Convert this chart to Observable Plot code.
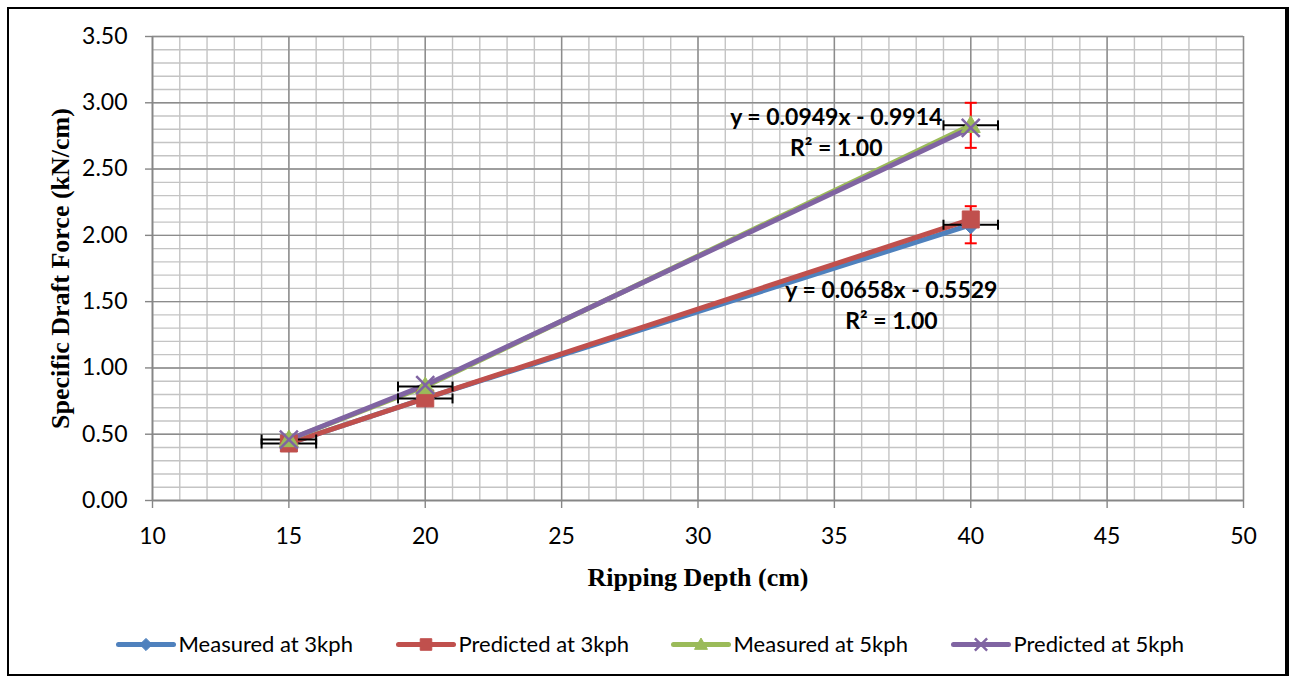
<!DOCTYPE html>
<html>
<head>
<meta charset="utf-8">
<script src="https://cdn.jsdelivr.net/npm/d3@7"></script>
<script src="https://cdn.jsdelivr.net/npm/@observablehq/plot@0.6"></script>
<style>
  html, body { margin: 0; padding: 0; background: #fff; }
  #wrap { position: relative; width: 1291px; height: 680px; overflow: hidden; background: #fff; }
  #chart { position: absolute; left: 0; top: 0; }
  #legend { position: absolute; left: 0; top: 619px; }
  #border { position: absolute; left: 7px; top: 7px; width: 1276px; height: 665px;
            border-left: 2px solid #000; border-top: 2px solid #000;
            border-right: 4px solid #000; border-bottom: 2px solid #000; pointer-events: none; }
</style>
</head>
<body>
<div id="wrap">
  <div id="chart"></div>
  <div id="legend"></div>
  <div id="border"></div>
</div>
<script>
// ---------------- data ----------------
const depth = [15, 20, 40];
const measured3kph = [0.43, 0.77, 2.08];
const predicted3kph = [0.43, 0.77, 2.12];
const measured5kph = [0.46, 0.86, 2.83];
const predicted5kph = [0.46, 0.87, 2.81];
const seriesNames = ["Measured at 3kph", "Predicted at 3kph", "Measured at 5kph", "Predicted at 5kph"];
const seriesColors = ["#4F81BD", "#C0504D", "#9BBB59", "#8064A2"];
const depthError = [1, 1, 1];          // ± cm (horizontal error bars, measured series)
const forceError3kph = [0, 0, 0.14];   // ± kN/cm (vertical error bars)
const forceError5kph = [0, 0, 0.17];
const xTicks = [10, 15, 20, 25, 30, 35, 40, 45, 50];
const yTicks = [0, 0.5, 1, 1.5, 2, 2.5, 3, 3.5];
const equationText = ["y = 0.0949x - 0.9914\nR² = 1.00", "y = 0.0658x - 0.5529\nR² = 1.00"];
const equationDepth = [35.07, 37.09];
const equationForce = [2.787, 1.489];
const xTitle = "Ripping Depth (cm)";
const yTitle = "Specific Draft Force (kN/cm)";

// ---------------- tables ----------------
const seriesValues = [measured3kph, predicted3kph, measured5kph, predicted5kph];
const rows = seriesValues.flatMap((vals, s) => depth.map((x, i) => ({ s, x, y: vals[i] })));
const bySeries = s => rows.filter(r => r.s === s);
const hErr = [measured3kph, measured5kph].flatMap(vals => depth.map((x, i) => ({ x, y: vals[i], e: depthError[i] })));
const vErr = [[measured3kph, forceError3kph], [measured5kph, forceError5kph]]
  .flatMap(([vals, err]) => depth.map((x, i) => ({ x, y: vals[i], e: err[i] }))).filter(d => d.e > 0);
const notes = equationText.map((t, i) => ({ t, x: equationDepth[i], y: equationForce[i] }));

// ---------------- symbols ----------------
const sqSym = h => ({ draw(c) { c.rect(-h, -h, 2 * h, 2 * h); } });
const diaSym = h => ({ draw(c) { c.moveTo(0, -h); c.lineTo(h, 0); c.lineTo(0, h); c.lineTo(-h, 0); c.closePath(); } });
const triSym = h => ({ draw(c) { c.moveTo(0, -h); c.lineTo(h, h * 0.75); c.lineTo(-h, h * 0.75); c.closePath(); } });
const xSym = h => ({ draw(c) { c.moveTo(-h, -h); c.lineTo(h, h); c.moveTo(h, -h); c.lineTo(-h, h); } });
const vCap = h => ({ draw(c) { c.moveTo(0, -h); c.lineTo(0, h); } });
const hCap = h => ({ draw(c) { c.moveTo(-h, 0); c.lineTo(h, 0); } });

function markerMarks(data, s, big) {
  const k = big ? 1 : 0.68;
  const col = seriesColors[s];
  if (s === 0) return Plot.dot(data, { x: "x", y: "y", symbol: diaSym(9 * k), fill: col, stroke: col, strokeWidth: 1 });
  if (s === 1) return Plot.dot(data, { x: "x", y: "y", symbol: sqSym(8.5 * k), fill: col, stroke: col, strokeWidth: 1 });
  if (s === 2) return Plot.dot(data, { x: "x", y: "y", symbol: triSym(9.5 * k), fill: col, stroke: col, strokeWidth: 1 });
  return Plot.dot(data, { x: "x", y: "y", symbol: xSym(9 * k), fill: "none", stroke: col, strokeWidth: 2.5 });
}

const FONT = "Lato, 'Open Sans', sans-serif";
const SERIF = "'Liberation Serif', 'Times New Roman', serif";
const minorX = d3.range(10, 51);
const minorY = d3.range(0, 36).map(i => i / 10);

const chart = Plot.plot({
  width: 1291, height: 600,
  marginLeft: 152, marginRight: 48, marginTop: 36, marginBottom: 100,
  x: { domain: [10, 50] },
  y: { domain: [0, 3.5] },
  style: { fontFamily: FONT, fontSize: "23px", color: "#000", background: "transparent", overflow: "visible" },
  marks: [
    Plot.gridX(minorX, { stroke: "#c4c4c4", strokeOpacity: 1, strokeWidth: 1.4 }),
    Plot.gridY(minorY, { stroke: "#c4c4c4", strokeOpacity: 1, strokeWidth: 1.4 }),
    Plot.gridX(xTicks, { stroke: "#8c8c8c", strokeOpacity: 1, strokeWidth: 1.4 }),
    Plot.gridY(yTicks, { stroke: "#8c8c8c", strokeOpacity: 1, strokeWidth: 1.4 }),
    Plot.axisX({ ticks: xTicks, tickSize: 8, tickPadding: 19, tickFormat: d => String(d), label: null,
                 stroke: "#868686", strokeWidth: 1.4, fill: "#000" }),
    Plot.axisY({ ticks: yTicks, tickSize: 7, tickPadding: 18, tickFormat: d3.format(".2f"), label: null,
                 stroke: "#868686", strokeWidth: 1.4, fill: "#000" }),
    Plot.ruleX([10], { stroke: "#868686", strokeWidth: 1.6 }),
    Plot.ruleY([0], { stroke: "#868686", strokeWidth: 1.6 }),
    // series lines
    ...[0, 1, 2, 3].map(s => Plot.line(bySeries(s), { x: "x", y: "y", stroke: seriesColors[s], strokeWidth: 5,
                                                     strokeLinejoin: "round", strokeLinecap: "round" })),
    // error bars
    Plot.link(hErr, { x1: d => d.x - d.e, x2: d => d.x + d.e, y1: "y", y2: "y", stroke: "#000", strokeWidth: 2 }),
    Plot.dot(hErr, { x: d => d.x - d.e, y: "y", symbol: vCap(5), stroke: "#000", strokeWidth: 2 }),
    Plot.dot(hErr, { x: d => d.x + d.e, y: "y", symbol: vCap(5), stroke: "#000", strokeWidth: 2 }),
    Plot.link(vErr, { x1: "x", x2: "x", y1: d => d.y - d.e, y2: d => d.y + d.e, stroke: "#FF0000", strokeWidth: 2 }),
    Plot.dot(vErr, { x: "x", y: d => d.y - d.e, symbol: hCap(6), stroke: "#FF0000", strokeWidth: 2 }),
    Plot.dot(vErr, { x: "x", y: d => d.y + d.e, symbol: hCap(6), stroke: "#FF0000", strokeWidth: 2 }),
    // markers
    ...[0, 1, 2, 3].map(s => markerMarks(bySeries(s), s, true)),
    // equations
    Plot.text(notes, { x: "x", y: "y", text: "t", fontWeight: "bold", fontSize: 23, lineHeight: 1.35,
                       fill: "#000", textAnchor: "middle" }),
    // axis titles
    Plot.text([xTitle], { frameAnchor: "bottom", dy: 77, fontFamily: SERIF, textAnchor: "middle",
                          fontWeight: "bold", fontSize: 26, fill: "#000", lineAnchor: "middle" }),
    Plot.text([yTitle], { frameAnchor: "left", dx: -92, rotate: -90, fontFamily: SERIF, textAnchor: "middle",
                          fontWeight: "bold", fontSize: 26, fill: "#000", lineAnchor: "middle" })
  ]
});
document.getElementById("chart").appendChild(chart);

// ---------------- legend ----------------
const legendStart = [118, 398, 673, 953];
const legendItems = seriesNames.map((name, s) => ({ s, name, x0: legendStart[s] }));
const legend = Plot.plot({
  width: 1291, height: 50, margin: 0,
  x: { domain: [0, 1291], range: [0, 1291], axis: null },
  y: { domain: [0, 50], range: [0, 50], axis: null },
  style: { fontFamily: FONT, fontSize: "22px", color: "#000", background: "transparent", overflow: "visible" },
  marks: [
    Plot.link(legendItems, { x1: "x0", x2: d => d.x0 + 55, y1: 25, y2: 25, stroke: d => seriesColors[d.s],
                             strokeWidth: 5, strokeLinecap: "round" }),
    ...[0, 1, 2, 3].map(s => markerMarks(legendItems.filter(d => d.s === s).map(d => ({ x: d.x0 + 27.5, y: 25 })), s, false)),
    Plot.text(legendItems, { x: d => d.x0 + 60, y: 25, text: "name", textAnchor: "start", fill: "#000" })
  ]
});
document.getElementById("legend").appendChild(legend);
</script>
</body>
</html>
